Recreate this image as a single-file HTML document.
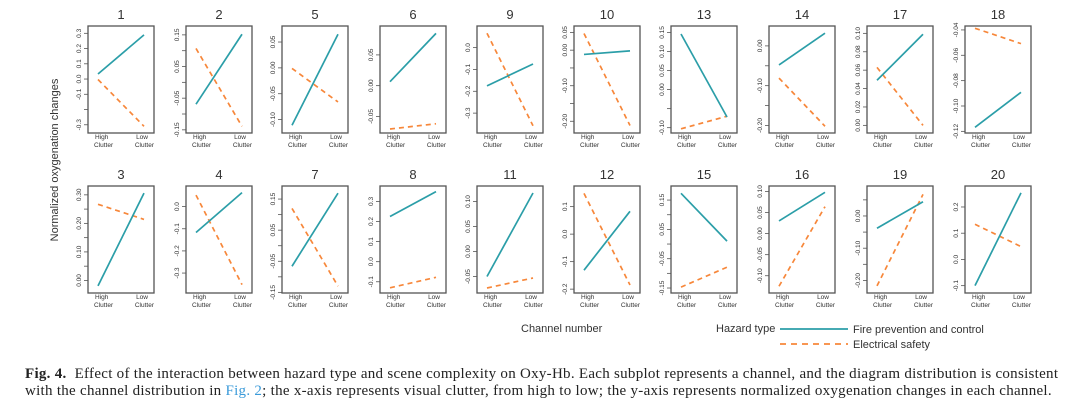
<!DOCTYPE html>
<html><head><meta charset="utf-8"><style>
html,body{margin:0;padding:0;background:#fff;width:1080px;height:413px;overflow:hidden}
svg{display:block}
.cap{position:absolute;left:25px;top:366px;font-family:"Liberation Serif",serif;font-size:15px;letter-spacing:0.28px;color:#222;line-height:17px;white-space:nowrap}
</style></head><body>
<svg id="chart" width="1080" height="413" xmlns="http://www.w3.org/2000/svg" font-family="Liberation Sans, sans-serif"></svg>
<div class="cap"><b>Fig. 4.</b>&nbsp; Effect of the interaction between hazard type and scene complexity on Oxy-Hb. Each subplot represents a channel, and the diagram distribution is consistent<br>with the channel distribution in <span style="color:#3a9ad9">Fig. 2</span>; the x-axis represents visual clutter, from high to low; the y-axis represents normalized oxygenation changes in each channel.</div>
<script>
const channels = [1,2,5,6,9,10,13,14,17,18, 3,4,7,8,11,12,15,16,19,20];
const fireHigh = [0.033,-0.069,-0.111,0.0065,-0.175,-0.012,0.146,-0.048,0.049,-0.1168, -0.019,-0.117,-0.066,0.225,-0.05,-0.131,0.173,0.030,-0.038,-0.10];
const fireLow  = [0.29,0.152,0.065,0.085,-0.075,-0.002,-0.072,0.032,0.099,-0.0892, 0.306,0.063,0.169,0.349,0.117,0.083,0.01,0.098,0.044,0.254];
const elecHigh = [-0.003,0.107,-0.001,-0.0705,0.066,0.047,-0.103,-0.081,0.063,-0.0387, 0.267,0.052,0.120,-0.13,-0.073,0.148,-0.147,-0.125,-0.217,0.134];
const elecLow  = [-0.31,-0.139,-0.066,-0.062,-0.358,-0.212,-0.07,-0.202,0.0,-0.0508, 0.214,-0.352,-0.130,-0.078,-0.053,-0.185,-0.079,0.064,0.067,0.049];
const yMin = [-0.354,-0.160,-0.126,-0.077,-0.391,-0.233,-0.114,-0.219,-0.0083,-0.1213, -0.044,-0.39,-0.152,-0.156,-0.083,-0.214,-0.167,-0.141,-0.239,-0.128];
const yMax = [0.348,0.178,0.081,0.097,0.099,0.068,0.167,0.050,0.108,-0.0369, 0.331,0.093,0.192,0.377,0.131,0.175,0.198,0.113,0.093,0.28];
const tickValues = [
 [0.3,0.2,0.1,0,-0.1,-0.2,-0.3],[0.15,0.1,0.05,0,-0.05,-0.1,-0.15],[0.05,0,-0.05,-0.1],[0.05,0,-0.05],[0,-0.1,-0.2,-0.3],
 [0.05,0,-0.05,-0.1,-0.15,-0.2],[0.15,0.1,0.05,0,-0.05,-0.1],[0,-0.05,-0.1,-0.15,-0.2],[0.1,0.08,0.06,0.04,0.02,0],[-0.04,-0.06,-0.08,-0.1,-0.12],
 [0.3,0.25,0.2,0.15,0.1,0.05,0],[0,-0.1,-0.2,-0.3],[0.15,0.1,0.05,0,-0.05,-0.1,-0.15],[0.3,0.2,0.1,0,-0.1],[0.1,0.05,0,-0.05],
 [0.1,0,-0.1,-0.2],[0.15,0.1,0.05,0,-0.05,-0.1,-0.15],[0.1,0.05,0,-0.05,-0.1],[0.05,0,-0.05,-0.1,-0.15,-0.2],[0.2,0.1,0,-0.1]];
const tickLabels = [
 ["0.3","0.2","0.1","0.0","-0.1","","-0.3"],["0.15","","0.05","","-0.05","","-0.15"],["0.05","0.00","-0.05","-0.10"],["0.05","0.00","-0.05"],["0.0","-0.1","-0.2","-0.3"],
 ["0.05","0.00","","-0.10","","-0.20"],["0.15","0.10","0.05","0.00","","-0.10"],["0.00","","-0.10","","-0.20"],["0.10","0.08","0.06","0.04","0.02","0.00"],["-0.04","-0.06","-0.08","-0.10","-0.12"],
 ["0.30","","0.20","","0.10","","0.00"],["0.0","-0.1","-0.2","-0.3"],["0.15","","0.05","","-0.05","","-0.15"],["0.3","0.2","0.1","0.0","-0.1"],["0.10","0.05","0.00","-0.05"],
 ["0.1","0.0","-0.1","-0.2"],["0.15","","0.05","","-0.05","","-0.15"],["0.10","0.05","0.00","-0.05","-0.10"],["","0.00","","-0.10","","-0.20"],["0.2","0.1","0.0","-0.1"]];

const NS='http://www.w3.org/2000/svg';
const svg=document.getElementById('chart');
function mk(tag,attrs,parent){const e=document.createElementNS(NS,tag);for(const k in attrs)e.setAttribute(k,attrs[k]);(parent||svg).appendChild(e);return e;}
const colLeft=[88,186,282,380,477,574,671,769,867,965];
const rowTop=[26,186];
const W=66,H=107;
const FIRE='#2b9ea8', ELEC='#f7873a';
channels.forEach((ch,i)=>{
  const r=Math.floor(i/10), c=i%10;
  const x0=colLeft[c], y0=rowTop[r];
  const g=mk('g',{});
  
  
  const yS=v=>y0+H-(v-yMin[i])/(yMax[i]-yMin[i])*H;
  const xHigh=x0+10, xLow=x0+W-10;
  const t=mk('text',{x:x0+W/2,y:y0-7,'text-anchor':'middle','font-size':13,fill:'#333'},g);
  t.textContent=ch;
  
  
  const box=mk('rect',{x:x0,y:y0,width:W,height:H,fill:'none',stroke:'#555','stroke-width':1.3},g);
  
  
  tickValues[i].forEach((tv,k)=>{
    const ty=yS(tv);
    if(ty<y0-1||ty>y0+H+1)return;
    const tk=mk('line',{x1:x0-4,x2:x0,y1:ty,y2:ty,stroke:'#555','stroke-width':0.8},g);
    
    
    if(tickLabels[i][k]){
      const lb=mk('text',{x:0,y:0,transform:`translate(${x0-7},${ty}) rotate(-90)`,'text-anchor':'middle','font-size':6.5,fill:'#333'},g);
      lb.textContent=tickLabels[i][k];
      
      
    }
  });
  [['High',xHigh-3,'start'],['Low',xLow+4,'end']].forEach(([w,xx,a])=>{
    const tx=mk('text',{x:xx,y:y0+H+6,'text-anchor':a,'font-size':6.5,fill:'#333'},g);
    
    
    const s1=mk('tspan',{x:xx,dy:0},tx);s1.textContent=w;
    const s2=mk('tspan',{x:(a==='start'?xx-1:xx+6),dy:8},tx);s2.textContent='Clutter';
  });
  const el=mk('line',{x1:xHigh,y1:yS(elecHigh[i]),x2:xLow,y2:yS(elecLow[i]),stroke:ELEC,'stroke-width':1.7,'stroke-dasharray':'5,4'},g);
  
  
  const fl=mk('line',{x1:xHigh,y1:yS(fireHigh[i]),x2:xLow,y2:yS(fireLow[i]),stroke:FIRE,'stroke-width':1.7},g);
  
  
});
const yl=mk('text',{transform:'translate(58,160) rotate(-90)','text-anchor':'middle','font-size':11,fill:'#333'});
yl.textContent='Normalized oxygenation changes';


const xl=mk('text',{x:521,y:332,'font-size':11,fill:'#333'});
xl.textContent='Channel number';


const lg=mk('g',{});


const lt=mk('text',{x:716,y:332,'font-size':11,fill:'#333'},lg);
lt.textContent='Hazard type';


const l1=mk('line',{x1:780,x2:848,y1:329,y2:329,stroke:FIRE,'stroke-width':1.8},lg);


const t1=mk('text',{x:853,y:333,'font-size':11,fill:'#333'},lg);
t1.textContent='Fire prevention and control';


const l2=mk('line',{x1:780,x2:848,y1:344,y2:344,stroke:ELEC,'stroke-width':1.8,'stroke-dasharray':'6,5'},lg);


const t2=mk('text',{x:853,y:348,'font-size':11,fill:'#333'},lg);
t2.textContent='Electrical safety';


</script>
</body></html>
